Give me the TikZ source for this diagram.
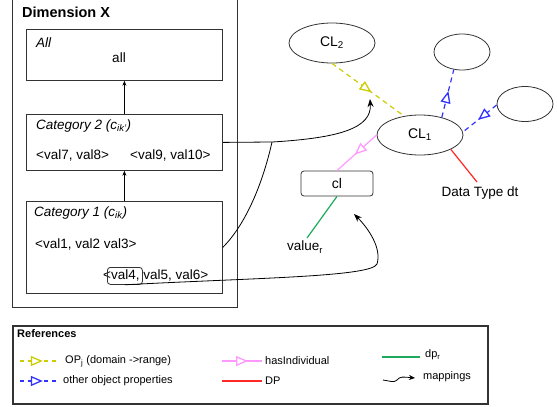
\documentclass[tikz,border=0pt]{standalone}
\usepackage{fontspec}
\setmainfont{Liberation Sans}
\usetikzlibrary{arrows.meta,decorations.markings,shapes.geometric}
\definecolor{ylw}{RGB}{204,204,0}
\definecolor{blu}{RGB}{51,51,255}
\definecolor{pnk}{RGB}{255,153,255}
\definecolor{rd}{RGB}{255,40,40}
\definecolor{grn}{RGB}{30,170,90}
\definecolor{edge}{RGB}{51,51,51}
\newcommand\fA{\fontsize{13.5}{16}\selectfont}
\newcommand\fL{\fontsize{11}{13}\selectfont}
\tikzset{
  box/.style={draw=edge, line width=0.8pt, rectangle, inner sep=0pt, anchor=north west},
  ell/.style={draw=edge, ellipse, line width=0.8pt, minimum width=86pt, minimum height=40pt, inner sep=0pt},
  smallell/.style={draw=edge, ellipse, line width=0.8pt, minimum width=56pt, minimum height=36pt, inner sep=0pt},
  txt/.style={font=\fA, inner sep=0pt, anchor=west},
  ltxt/.style={font=\fL, inner sep=0pt, anchor=west},
  midtri/.style={postaction={decorate}, decoration={markings, mark=at position #1 with {\arrow{Triangle[length=12pt,width=10pt,fill=white,line width=1.3pt]}}}},
  ylwline/.style={draw=ylw, line width=1.2pt, dash pattern=on 5pt off 4pt},
  bluline/.style={draw=blu, line width=1.2pt, dash pattern=on 5pt off 4pt},
  pnkline/.style={draw=pnk, line width=1.2pt},
  rdline/.style={draw=rd, line width=1.2pt},
  grnline/.style={draw=grn, line width=1.2pt},
  mapping/.style={draw=black, line width=0.8pt, -{Stealth[length=8pt,width=6pt]}},
  uparrow/.style={draw=black, line width=0.6pt, -{Stealth[length=5pt,width=4pt]}}
}
\begin{document}
\begin{tikzpicture}[x=1pt,y=-1pt]
\useasboundingbox (0,0) rectangle (557,407);
\fill[white] (0,0) rectangle (557,407);
% Dimension box
\draw[draw=edge, line width=0.8pt] (12,-5) rectangle (237,307);
\node[txt, font=\fontsize{14.5}{17}\selectfont\bfseries] (dimt) at (22,12) {Dimension X};
% All
\node[box, minimum width=196pt, minimum height=51pt] (all) at (26,29) {};
\node[txt] (allt) at (36,43) {\itshape All};
\node[txt, anchor=center] (allv) at (119,58) {all};
% Category 2
\node[box, minimum width=196pt, minimum height=56pt] (cat2) at (26,114) {};
\node[txt] (cat2t) at (36,126) {\itshape Category 2 (c\textsubscript{ik'})};
\node[txt] (v78) at (36,155) {<val7, val8>};
\node[txt] (v910) at (130,155) {<val9, val10>};
% Category 1
\node[box, minimum width=196pt, minimum height=92pt] (cat1) at (26,201) {};
\node[txt] (cat1t) at (34,213) {\itshape Category 1 (c\textsubscript{ik})};
\node[txt] (v123) at (35,244) {<val1, val2 val3>};
\node[txt] (v456) at (103,275) {<val4, val5, val6>};
\node[draw=edge, line width=0.8pt, rounded corners=3pt, minimum width=35pt, minimum height=17pt, inner sep=0pt, anchor=north west] (val4) at (107,267) {};
\draw[uparrow] (cat2.north) -- (all.south);
\draw[uparrow] (cat1.north) -- (cat2.south);
% right side
\node[ell] (CL2) at (332,43) {\fontsize{14}{16}\selectfont CL\textsubscript{2}};
\node[ell] (CL1) at (420,135) {\fontsize{14}{16}\selectfont CL\textsubscript{1}};
\node[smallell] (e1) at (462,52) {};
\node[smallell, minimum height=35pt] (e2) at (525,104) {};
\node[draw=edge, line width=0.8pt, rounded corners=3pt, minimum width=72pt, minimum height=25pt, inner sep=0pt, font=\fontsize{14}{16}\selectfont] (cl) at (337,183.5) {cl};
\node[txt, anchor=north] (dt) at (480,187) {Data Type dt};
\node[txt, anchor=north] (valr) at (305,241) {value\textsubscript{r}};
% connectors
\draw[ylwline, midtri=0.55] (CL2.south) -- (CL1.130);
\draw[bluline, midtri=0.55] (CL1.39) -- (e1.-115);
\draw[bluline, midtri=0.55] (e2.182) -- (CL1.4);
\draw[pnkline, midtri=0.55] (CL1.west) -- (cl.north);
\draw[rdline] (CL1.-25) -- ([xshift=-3pt,yshift=5pt]dt.north);
\draw[grnline] (cl.south) -- ([xshift=2pt,yshift=3pt]valr.north);
% mappings
\coordinate (join) at (272,142);
\coordinate (optarget) at (370,99);
\coordinate (mapcl) at (354,214);
\draw[draw=black, line width=0.8pt] (cat1.east) .. controls (248,222) and (264,178) .. (join);
\draw[mapping] (cat2.east) -- (join) .. controls (340,138) and (372,128) .. (optarget);
\draw[mapping] (val4.south) .. controls (250,278) and (372,277) .. (377,264) .. controls (382,248) and (368,228) .. (mapcl);
% legend
\node[box, draw=edge, line width=1.5pt, minimum width=475pt, minimum height=78pt] (legend) at (12,325) {};
\node[ltxt, font=\fL\bfseries] (reft) at (17,334) {References};
\coordinate (ya) at (20,361); \coordinate (yb) at (58,361);
\draw[ylwline, dash pattern=on 4pt off 4pt, midtri=0.6] (ya) -- (yb);
\node[ltxt] (l1) at (65,361) {OP\textsubscript{j} (domain ->range)};
\coordinate (ba) at (20,381); \coordinate (bb) at (58,381);
\draw[bluline, dash pattern=on 4pt off 4pt, midtri=0.6] (ba) -- (bb);
\node[ltxt] (l2) at (63,381) {other object properties};
\coordinate (pa) at (222,361); \coordinate (pb) at (262,361);
\draw[pnkline, midtri=0.65] (pa) -- (pb);
\node[ltxt] (l3) at (265,361) {hasIndividual};
\coordinate (ra) at (222,381); \coordinate (rb) at (262,381);
\draw[rdline] (ra) -- (rb);
\node[ltxt] (l4) at (265,381) {DP};
\coordinate (ga) at (382,357); \coordinate (gb) at (420,357);
\draw[grnline] (ga) -- (gb);
\node[ltxt] (l5) at (425,355) {dp\textsubscript{r}};
\coordinate (ma) at (383,380); \coordinate (mb) at (415,378);
\draw[draw=black, line width=0.8pt, -{Stealth[length=6pt,width=5pt]}] (ma) .. controls (390,381) and (394,383) .. (397,380) .. controls (400,376) and (404,377) .. (mb);
\node[ltxt] (l6) at (423,377) {mappings};
\end{tikzpicture}
\end{document}
